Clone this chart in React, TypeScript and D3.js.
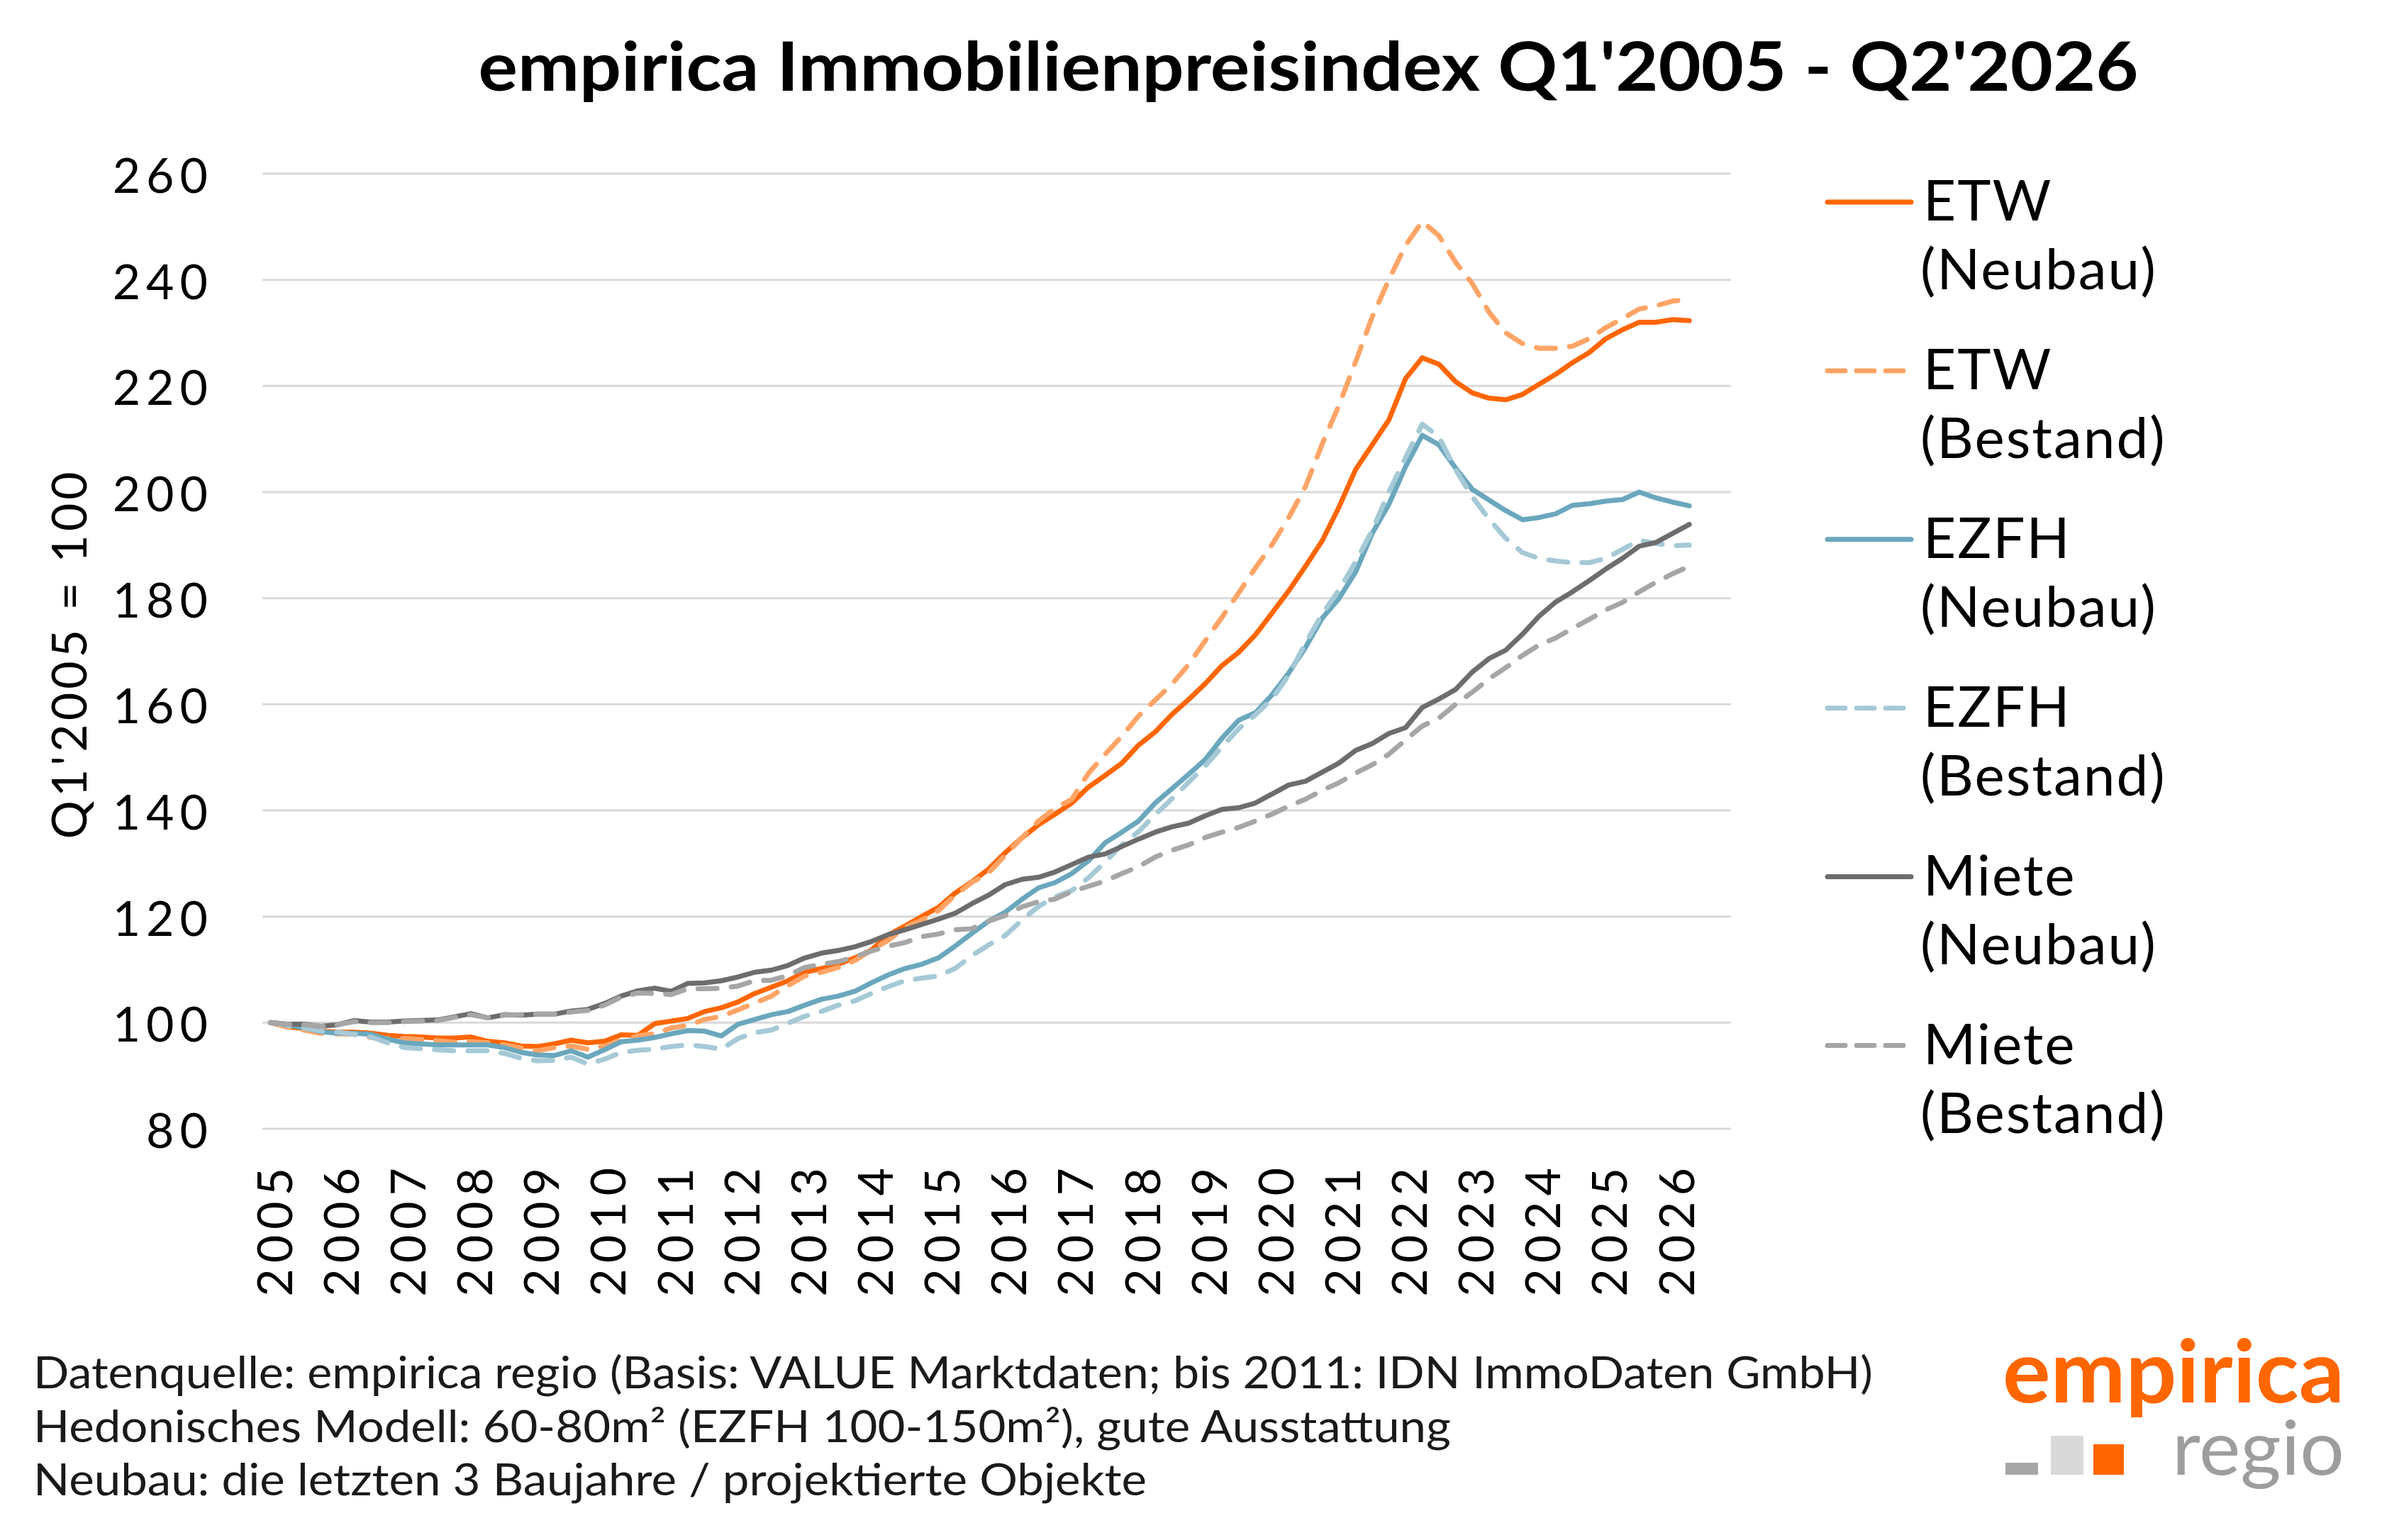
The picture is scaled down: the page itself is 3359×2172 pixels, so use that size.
import { useMemo } from "react";
import * as d3 from "d3";

// Category axis runs Q1'2005 - Q4'2026 (88 slots), data ends Q2'2026
const years = [
    2005, 2006, 2007, 2008, 2009, 2010, 2011, 2012, 2013, 2014, 2015,
    2016, 2017, 2018, 2019, 2020, 2021, 2022, 2023, 2024, 2025, 2026,
];
const quartersPerYear = 4;
const yTicks = [80, 100, 120, 140, 160, 180, 200, 220, 240, 260];

const etwNeubau = [
    100, 99.2, 98.9, 98.4, 98.2, 98.2, 98.0, 97.6, 97.4, 97.3, 97.1, 97.1,
    97.3, 96.5, 96.2, 95.6, 95.5, 96.0, 96.7, 96.2, 96.5, 97.7, 97.6, 99.8,
    100.3, 100.8, 102.1, 102.8, 103.9, 105.5, 106.7, 107.9, 109.5, 110.2, 111.0, 112.2,
    113.7, 116.5, 118.2, 120.0, 121.7, 124.4, 126.5, 128.9, 132.0, 134.8, 137.3, 139.3,
    141.4, 144.4, 146.6, 148.9, 152.3, 154.8, 158.1, 160.9, 163.9, 167.3, 169.8, 173.1,
    177.2, 181.4, 186.0, 190.8, 197.1, 204.2, 208.9, 213.6, 221.4, 225.3, 224.1, 220.8,
    218.7, 217.7, 217.4, 218.4, 220.3, 222.2, 224.4, 226.3, 228.9, 230.6, 232.0, 232.0,
    232.5, 232.3,
];
const etwBestand = [
    100, 99.2, 98.6, 98.0, 97.9, 97.8, 97.2, 97.0, 97.0, 96.8, 96.6, 96.3,
    96.4, 96.2, 95.8, 95.2, 94.7, 95.3, 95.6, 95.0, 95.6, 96.6, 97.5, 97.9,
    99.0, 99.5, 100.6, 101.2, 102.4, 103.7, 105.0, 107.0, 108.8, 109.5, 110.4, 111.7,
    113.7, 115.5, 118.0, 119.3, 121.1, 124.0, 126.4, 128.2, 131.5, 134.8, 138.0, 140.4,
    142.1, 147.0, 150.6, 154.0, 157.8, 160.8, 163.8, 167.5, 172.0, 176.4, 181.0, 185.7,
    190.1, 195.2, 201.0, 209.0, 216.3, 224.5, 233.0, 240.0, 246.5, 251.0, 248.3, 243.3,
    239.3, 233.9, 230.0, 228.0, 227.1, 227.1, 227.5, 228.9, 231.0, 232.7, 234.5, 235.1,
    236.0, 236.3,
];
const ezfhNeubau = [
    100, 99.6, 99.0, 98.3, 98.0, 98.0, 97.8, 96.9, 96.2, 96.0, 95.8, 95.8,
    95.8, 95.8, 95.3, 94.4, 93.9, 93.8, 94.7, 93.5, 94.9, 96.4, 96.7, 97.2,
    97.9, 98.5, 98.4, 97.5, 99.7, 100.6, 101.5, 102.1, 103.3, 104.4, 105.0, 105.9,
    107.5, 109.0, 110.2, 111.0, 112.2, 114.4, 116.8, 119.1, 120.8, 123.2, 125.4, 126.4,
    128.1, 130.5, 133.9, 135.9, 138.0, 141.4, 144.1, 146.8, 149.6, 153.6, 157.0, 158.4,
    161.8, 165.9, 170.7, 176.2, 179.9, 184.9, 192.2, 197.7, 204.8, 210.7, 208.9, 204.5,
    200.5, 198.5, 196.5, 194.8, 195.2, 195.9, 197.5, 197.8, 198.3, 198.6, 200.0, 198.9,
    198.1, 197.4,
];
const ezfhBestand = [
    100, 99.5, 99.0, 98.4, 98.2, 97.8, 97.3, 96.2, 95.3, 95.1, 94.9, 94.7,
    94.7, 94.7, 94.2, 93.3, 92.8, 92.9, 93.5, 92.2, 93.1, 94.4, 94.8, 95.0,
    95.5, 95.8, 95.5, 95.0, 97.0, 98.1, 98.6, 99.9, 101.2, 102.1, 103.3, 104.1,
    105.5, 106.8, 107.9, 108.4, 108.8, 110.2, 112.6, 114.6, 116.4, 119.3, 121.9, 123.7,
    124.9, 127.3, 130.3, 133.5, 136.0, 139.2, 142.2, 145.3, 148.4, 152.0, 155.4, 158.0,
    161.0, 165.5, 171.5, 177.0, 181.5, 186.8, 192.8, 200.0, 206.5, 212.8, 210.4, 204.2,
    199.1, 194.9, 191.3, 188.6, 187.5, 187.0, 186.7, 186.7, 187.5, 189.2, 190.9, 190.3,
    189.9, 190.0,
];
const mieteNeubau = [
    100, 99.7, 99.7, 99.3, 99.6, 100.4, 100.1, 100.1, 100.3, 100.4, 100.5, 101.1,
    101.7, 100.9, 101.5, 101.4, 101.6, 101.6, 102.2, 102.5, 103.6, 105.0, 106.0, 106.5,
    105.9, 107.4, 107.5, 107.9, 108.6, 109.5, 109.9, 110.8, 112.2, 113.1, 113.6, 114.3,
    115.3, 116.6, 117.5, 118.5, 119.5, 120.6, 122.4, 124.0, 126.0, 127.0, 127.4, 128.4,
    129.8, 131.2, 131.8, 133.2, 134.6, 135.9, 136.9, 137.6, 139.0, 140.2, 140.5, 141.4,
    143.1, 144.8, 145.5, 147.2, 148.9, 151.3, 152.6, 154.5, 155.6, 159.4, 161.0, 162.8,
    166.1, 168.6, 170.2, 173.2, 176.6, 179.3, 181.2, 183.3, 185.5, 187.5, 189.8, 190.5,
    192.2, 193.9,
];
const mieteBestand = [
    100, 99.7, 99.6, 99.3, 99.6, 100.2, 100.0, 100.0, 100.2, 100.3, 100.4, 101.0,
    101.5, 100.9, 101.4, 101.5, 101.6, 101.6, 102.0, 102.3, 103.3, 104.8, 105.6, 105.5,
    105.3, 106.4, 106.4, 106.5, 106.9, 107.9, 108.0, 108.9, 110.4, 111.0, 111.5, 112.4,
    113.5, 114.4, 115.1, 116.2, 116.7, 117.5, 117.7, 119.1, 120.2, 121.8, 122.8, 123.3,
    124.7, 125.7, 126.7, 128.1, 129.4, 131.2, 132.5, 133.5, 134.9, 135.9, 136.8, 138.0,
    139.3, 140.8, 142.1, 143.8, 145.2, 147.0, 148.6, 150.6, 153.3, 155.9, 157.4, 160.0,
    162.3, 164.8, 166.9, 169.2, 171.2, 172.5, 174.3, 176.0, 177.8, 179.2, 181.2, 183.0,
    184.6, 186.0,
];

const series = [
    { label: ["ETW", "(Neubau)"], values: etwNeubau, color: "#ff6600", dashed: false },
    { label: ["ETW", "(Bestand)"], values: etwBestand, color: "#ffa466", dashed: true },
    { label: ["EZFH", "(Neubau)"], values: ezfhNeubau, color: "#6aa7bd", dashed: false },
    { label: ["EZFH", "(Bestand)"], values: ezfhBestand, color: "#a5c9d6", dashed: true },
    { label: ["Miete", "(Neubau)"], values: mieteNeubau, color: "#6d6d6d", dashed: false },
    { label: ["Miete", "(Bestand)"], values: mieteBestand, color: "#a6a6a6", dashed: true },
];

const footnotes = [
    "Datenquelle: empirica regio (Basis: VALUE Marktdaten; bis 2011: IDN ImmoDaten GmbH)",
    "Hedonisches Modell: 60-80m² (EZFH 100-150m²), gute Ausstattung",
    "Neubau: die letzten 3 Baujahre / projektierte Objekte",
];
// measured widths of the footnote lines in the original
const footnoteWidths = [2594, 1999, 1570];

const W = 3359;
const H = 2172;
const plot = { left: 370, right: 2441, top: 245, bottom: 1592 };
const font = "Lato, 'Open Sans', sans-serif";
const strokeW = 7;
const dash = "27 20";

export default function App() {
    const x = useMemo(
        () =>
            d3
                .scaleBand<number>()
                .domain(d3.range(years.length * quartersPerYear))
                .range([plot.left, plot.right]),
        []
    );
    const y = useMemo(
        () => d3.scaleLinear().domain([80, 260]).range([plot.bottom, plot.top]),
        []
    );
    const cx = (i: number) => (x(i) ?? 0) + x.bandwidth() / 2;

    const lineGen = d3
        .line<number>()
        .x((_, i) => cx(i))
        .y((d) => y(d))
        .curve(d3.curveLinear);

    const legendTop = 285;
    const legendStep = 237.9;

    return (
        <svg
            width={W}
            height={H}
            style={{ position: "absolute", left: 0, top: 0, background: "#fff" }}
            fontFamily={font}
        >
            {/* title */}
            <text
                x={1845}
                y={128}
                textAnchor="middle"
                fontSize={96}
                fontWeight={700}
                textLength={2341}
                lengthAdjust="spacingAndGlyphs"
                fill="#000"
            >
                empirica Immobilienpreisindex Q1'2005 - Q2'2026
            </text>

            {/* gridlines + y labels */}
            {yTicks.map((t) => (
                <g key={t}>
                    <line
                        x1={plot.left}
                        x2={plot.right}
                        y1={y(t)}
                        y2={y(t)}
                        stroke="#d9d9d9"
                        strokeWidth={3}
                    />
                    <text
                        x={301}
                        y={y(t) + 27}
                        textAnchor="end"
                        fontSize={68}
                        letterSpacing={8}
                        fill="#000"
                    >
                        {t}
                    </text>
                </g>
            ))}

            {/* y axis title */}
            <text
                transform={`translate(122, 922) rotate(-90)`}
                textAnchor="middle"
                fontSize={68}
                letterSpacing={5}
                fill="#000"
            >
                Q1'2005 = 100
            </text>

            {/* x labels */}
            {years.map((yr, k) => (
                <text
                    key={yr}
                    transform={`translate(${cx(k * quartersPerYear) + 30}, 1639) rotate(-90)`}
                    textAnchor="end"
                    fontSize={68}
                    letterSpacing={8}
                    fill="#000"
                >
                    {yr}
                </text>
            ))}

            {/* series */}
            {series.map((s) => (
                <path
                    key={s.label.join(" ")}
                    d={lineGen(s.values) ?? ""}
                    fill="none"
                    stroke={s.color}
                    strokeWidth={strokeW}
                    strokeLinejoin="round"
                    strokeLinecap="round"
                    strokeDasharray={s.dashed ? dash : undefined}
                />
            ))}

            {/* legend */}
            {series.map((s, k) => {
                const ly = legendTop + k * legendStep;
                return (
                    <g key={"lg" + k}>
                        <line
                            x1={2577}
                            x2={2695}
                            y1={ly}
                            y2={ly}
                            stroke={s.color}
                            strokeWidth={strokeW}
                            strokeLinecap="round"
                            strokeDasharray={s.dashed ? "25 16" : undefined}
                        />
                        <text x={2712} y={ly + 26} fontSize={80} letterSpacing={2} fill="#000">
                            {s.label[0]}
                        </text>
                        <text x={2708} y={ly + 123} fontSize={80} letterSpacing={2} fill="#000">
                            {s.label[1]}
                        </text>
                    </g>
                );
            })}

            {/* footnotes */}
            {footnotes.map((f, k) => (
                <text
                    key={k}
                    x={47}
                    y={1958 + k * 75.5}
                    fontSize={61}
                    fill="#1a1a1a"
                    textLength={footnoteWidths[k]}
                    lengthAdjust="spacingAndGlyphs"
                >
                    {f}
                </text>
            ))}

            {/* logo */}
            <text
                x={3306}
                y={1978}
                textAnchor="end"
                fontSize={122}
                fontWeight={700}
                fill="#ff6600"
                textLength={482}
                lengthAdjust="spacingAndGlyphs"
            >
                empirica
            </text>
            <rect x={2828} y={2063} width={46} height={17} fill="#a6a6a6" />
            <rect x={2892} y={2025} width={46} height={55} fill="#d9d9d9" />
            <rect x={2952} y={2037} width={43} height={43} fill="#ff6600" />
            <text
                x={3306}
                y={2080}
                textAnchor="end"
                fontSize={106}
                fill="#9d9d9d"
                textLength={243}
                lengthAdjust="spacingAndGlyphs"
            >
                regio
            </text>
        </svg>
    );
}
